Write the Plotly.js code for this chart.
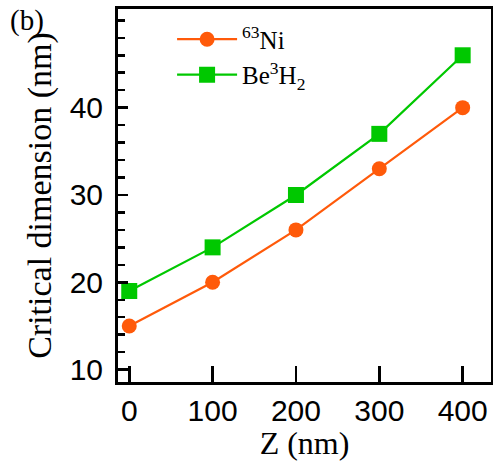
<!DOCTYPE html>
<html>
<head>
<meta charset="utf-8">
<script src="https://cdn.plot.ly/plotly-3.0.1.min.js"></script>
<style>html,body{margin:0;padding:0;background:#fff;}#chart{width:493px;height:461px;}</style>
</head>
<body>
<div id="chart"></div>
<script>
const zValues = [0, 100, 200, 300, 400];
const ni63 = [15, 20, 26, 33, 40];
const be3h2 = [19, 24, 30, 37, 46];
const seriesNames = ['<sup>63</sup>Ni', 'Be<sup>3</sup>H<sub>2</sub>'];
const xTicks = [0, 100, 200, 300, 400];
const yTicks = [10, 20, 30, 40];

const serif = '"Liberation Serif", "Times New Roman", serif';
const sans = '"Liberation Sans", Arial, sans-serif';

const traces = [
  {x: zValues, y: ni63, name: seriesNames[0], type: 'scatter', mode: 'lines+markers',
   line: {color: '#ff5a0a', width: 2.2}, marker: {symbol: 'circle', size: 15, color: '#ff5a0a'}},
  {x: zValues, y: be3h2, name: seriesNames[1], type: 'scatter', mode: 'lines+markers',
   line: {color: '#00c800', width: 2.2}, marker: {symbol: 'square', size: 16, color: '#00c800'}}
];

const layout = {
  width: 493, height: 461,
  margin: {l: 118, r: 2, t: 9, b: 79},
  paper_bgcolor: '#fff', plot_bgcolor: '#fff',
  showlegend: true,
  legend: {x: 0.145, y: 0.98, xanchor: 'left', yanchor: 'top', bgcolor: 'rgba(0,0,0,0)',
           font: {family: serif, size: 25, color: '#000'},
           tracegroupgap: 0, itemwidth: 60},
  xaxis: {
    range: [-13.5, 434], tickvals: xTicks, ticks: 'inside', ticklen: 16, tickwidth: 2.5,
    tickcolor: '#000', showline: true, linewidth: 3, linecolor: '#000', mirror: true,
    showgrid: false, zeroline: false,
    tickfont: {family: sans, size: 30, color: '#000'},
    title: {text: 'Z (nm)', font: {family: serif, size: 32, color: '#000'}, standoff: 4}
  },
  yaxis: {
    range: [8.58, 51.3], tickvals: yTicks, ticks: 'inside', ticklen: 10, tickwidth: 2.5,
    tickcolor: '#000', showline: true, linewidth: 3, linecolor: '#000', mirror: true,
    showgrid: false, zeroline: false, ticklabelstandoff: 6,
    minor: {dtick: 2, tick0: 0, ticks: 'inside', ticklen: 7, tickwidth: 2.5, tickcolor: '#000', showgrid: false},
    tickfont: {family: sans, size: 30, color: '#000'},
    title: {text: 'Critical dimension (nm)', font: {family: serif, size: 34, color: '#000'}, standoff: 8}
  },
  annotations: [
    {text: '(b)', xref: 'paper', yref: 'paper', x: -0.295, y: 1.02, xanchor: 'left', yanchor: 'top',
     showarrow: false, font: {family: serif, size: 29, color: '#000'}}
  ]
};

Plotly.newPlot('chart', traces, layout, {displayModeBar: false, staticPlot: true});
</script>
</body>
</html>
